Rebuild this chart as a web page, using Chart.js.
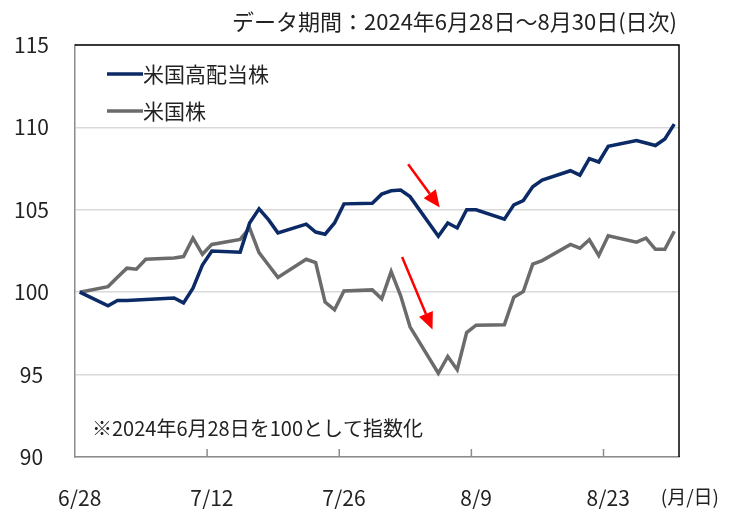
<!DOCTYPE html>
<html lang="ja">
<head>
<meta charset="utf-8">
<script src="https://cdn.jsdelivr.net/npm/chart.js@4.4.1/dist/chart.umd.min.js"></script>
<style>
  body { margin: 0; background: #fff; }
  #wrap { width: 735px; height: 509px; }
</style>
</head>
<body>
<div id="wrap"><canvas id="chart" width="735" height="509"></canvas></div>
<script>
// 取引日（月/日）
const tradeDays = [
  '6/28', '7/1', '7/2', '7/3', '7/4', '7/5', '7/8', '7/9', '7/10', '7/11', '7/12',
  '7/15', '7/16', '7/17', '7/18', '7/19', '7/22', '7/23', '7/24', '7/25', '7/26',
  '7/29', '7/30', '7/31', '8/1', '8/2', '8/5', '8/6', '8/7', '8/8', '8/9',
  '8/12', '8/13', '8/14', '8/15', '8/16', '8/19', '8/20', '8/21', '8/22', '8/23',
  '8/26', '8/27', '8/28', '8/29', '8/30'
];
// 米国高配当株（2024/6/28=100）
const highDividend = [
  100, 99.18, 99.5, 99.5, 99.52, 99.55, 99.65, 99.35, 100.25, 101.65, 102.5,
  102.43, 104.2, 105.06, 104.4, 103.6, 104.13, 103.65, 103.52, 104.2, 105.36,
  105.4, 105.95, 106.15, 106.2, 105.8, 103.4, 104.2, 103.9, 105.0, 105.0,
  104.43, 105.3, 105.56, 106.4, 106.8, 107.37, 107.1, 108.1, 107.9, 108.85,
  109.2, 109.05, 108.9, 109.3, 110.2
];
// 米国株（2024/6/28=100）
const usStocks = [
  100, 100.34, 100.9, 101.46, 101.4, 102.0, 102.08, 102.16, 103.28, 102.3, 102.9,
  103.2, 103.9, 102.4, 101.65, 100.9, 102.0, 101.8, 99.4, 98.93, 100.08,
  100.14, 99.6, 101.25, 99.8, 97.9, 95.08, 96.1, 95.3, 97.55, 98.0,
  98.03, 99.7, 100.04, 101.7, 101.92, 102.9, 102.67, 103.18, 102.22, 103.42,
  103.04, 103.28, 102.6, 102.6, 103.7
];
const tickDays = ['6/28', '7/12', '7/26', '8/9', '8/23'];
// 矢印（始点・終点を [日インデックス, 指数] で）
const arrows = [
  [[34.8, 107.77], [38.15, 105.14]],
  [[34.16, 102.14], [37.38, 97.73]]
];

const FONT = "'Noto Sans CJK JP', 'Noto Sans', sans-serif";

// 6/28〜8/30 の暦日ラベル
const calendar = [];
for (let d = new Date(2024, 5, 28); d <= new Date(2024, 7, 30); d.setDate(d.getDate() + 1)) {
  calendar.push((d.getMonth() + 1) + '/' + d.getDate());
}

const extras = {
  id: 'extras',
  afterDraw(chart) {
    const ctx = chart.ctx;
    const a = chart.chartArea;
    const xs = chart.scales.x, ys = chart.scales.y;
    const slot = xs.getPixelForValue(1) - xs.getPixelForValue(0);
    ctx.save();

    // 上・右の枠線
    ctx.strokeStyle = '#000';
    ctx.lineWidth = 1.5;
    ctx.beginPath();
    ctx.moveTo(a.left, a.top);
    ctx.lineTo(a.right, a.top);
    ctx.lineTo(a.right, a.bottom);
    ctx.stroke();

    // 内向きの目盛り
    ctx.strokeStyle = '#8c8c8c';
    ctx.beginPath();
    tickDays.slice(1).forEach(day => {
      const px = xs.getPixelForValue(calendar.indexOf(day)) - slot / 2;
      ctx.moveTo(px, a.bottom - 8);
      ctx.lineTo(px, a.bottom);
    });
    ctx.stroke();

    // 凡例
    ctx.font = '21px ' + FONT;
    ctx.textBaseline = 'middle';
    ctx.fillStyle = '#222';
    chart.data.datasets.forEach((ds, i) => {
      const y = 74 + i * 37;
      ctx.strokeStyle = ds.borderColor;
      ctx.lineWidth = 3.5;
      ctx.beginPath();
      ctx.moveTo(107, y);
      ctx.lineTo(143, y);
      ctx.stroke();
      ctx.fillText(ds.label, 143, y);
    });

    // タイトル・注記
    ctx.textAlign = 'right';
    ctx.font = '22px ' + FONT;
    ctx.fillText('データ期間：2024年6月28日～8月30日(日次)', 677, 22);
    ctx.font = '19px ' + FONT;
    ctx.fillText('(月/日)', 719, 497);
    ctx.textAlign = 'left';
    ctx.font = '20px ' + FONT;
    ctx.fillText('※2024年6月28日を100として指数化', 92, 428);

    // 赤い矢印
    ctx.strokeStyle = '#ff0000';
    ctx.fillStyle = '#ff0000';
    ctx.lineWidth = 2.5;
    arrows.forEach(([s, e]) => {
      const x1 = xs.getPixelForValue(s[0]), y1 = ys.getPixelForValue(s[1]);
      const x2 = xs.getPixelForValue(e[0]), y2 = ys.getPixelForValue(e[1]);
      const ang = Math.atan2(y2 - y1, x2 - x1);
      const len = 17, half = 7.5;
      const bx = x2 - len * Math.cos(ang), by = y2 - len * Math.sin(ang);
      ctx.beginPath();
      ctx.moveTo(x1, y1);
      ctx.lineTo(bx, by);
      ctx.stroke();
      ctx.beginPath();
      ctx.moveTo(x2, y2);
      ctx.lineTo(bx + half * Math.sin(ang), by - half * Math.cos(ang));
      ctx.lineTo(bx - half * Math.sin(ang), by + half * Math.cos(ang));
      ctx.closePath();
      ctx.fill();
    });
    ctx.restore();
  }
};

new Chart(document.getElementById('chart'), {
  type: 'line',
  data: {
    datasets: [
      {
        label: '米国高配当株',
        data: tradeDays.map((x, i) => ({ x, y: highDividend[i] })),
        borderColor: '#0b2a66',
        borderWidth: 3.5,
        pointRadius: 0,
        tension: 0
      },
      {
        label: '米国株',
        data: tradeDays.map((x, i) => ({ x, y: usStocks[i] })),
        borderColor: '#6b6b6b',
        borderWidth: 3.5,
        pointRadius: 0,
        tension: 0
      }
    ]
  },
  options: {
    responsive: false,
    animation: false,
    devicePixelRatio: 1,
    layout: { padding: { top: 45, right: 56, left: 0, bottom: 0 } },
    plugins: {
      legend: { display: false },
      tooltip: { enabled: false }
    },
    scales: {
      x: {
        type: 'category',
        labels: calendar,
        offset: true,
        grid: { display: false },
        border: { color: '#8c8c8c', width: 1.5 },
        ticks: {
          autoSkip: false,
          maxRotation: 0,
          padding: 20,
          color: '#222',
          font: { size: 21, family: FONT },
          callback: (v, i) => tickDays.includes(calendar[i]) ? calendar[i] : ''
        },
        afterFit: s => { s.height = 52; }
      },
      y: {
        min: 90,
        max: 115,
        grid: { color: '#d9d9d9', lineWidth: 1.5, drawTicks: false },
        border: { color: '#8c8c8c', width: 1.5 },
        ticks: {
          stepSize: 5,
          crossAlign: 'center',
          padding: 26,
          color: '#222',
          font: { size: 21, family: FONT }
        },
        afterFit: s => { s.width = 75; }
      }
    }
  },
  plugins: [extras]
});
</script>
</body>
</html>
